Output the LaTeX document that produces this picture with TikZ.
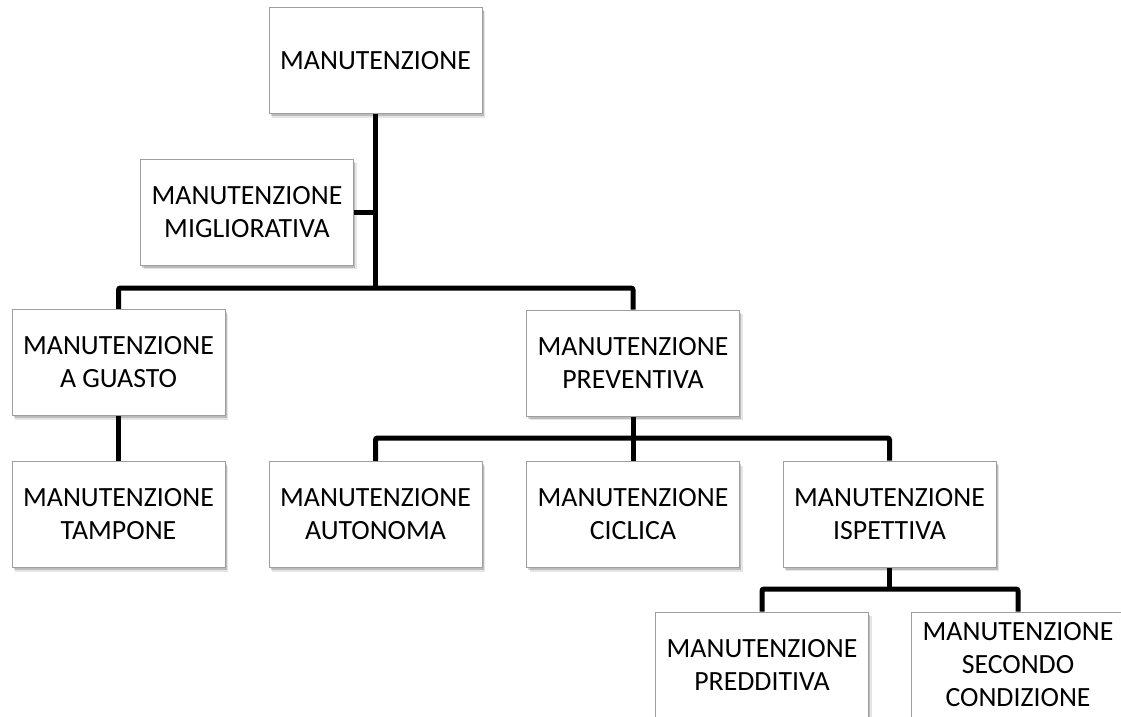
\documentclass[tikz,border=0pt]{standalone}
\usepackage{fontspec}
\setmainfont{Carlito}
\usetikzlibrary{shadows,backgrounds}

\tikzset{
  box/.style={draw=black!38, line width=1pt, fill=white,
    minimum width=213pt, minimum height=106pt, inner sep=0pt,
    align=center, text=black,
    font=\fontsize{27.8}{33}\selectfont,
    drop shadow={shadow xshift=3pt, shadow yshift=-4pt, fill=black, opacity=0.10},
    drop shadow={shadow xshift=1.5pt, shadow yshift=-2.5pt, fill=black, opacity=0.18}},
  conn/.style={draw=black, line width=5pt, rounded corners=2pt}
}

\begin{document}
\begin{tikzpicture}[x=1pt, y=-1pt]
  \clip (0,0) rectangle (1121,717);

  % boxes of the maintenance tree
  \node[box] (root)   at (375.5,60.5)  {MANUTENZIONE};
  \node[box] (mig)    at (247,212)     {MANUTENZIONE\\MIGLIORATIVA};
  \node[box] (guasto) at (118.5,362.5) {MANUTENZIONE\\A GUASTO};
  \node[box] (prev)   at (633,363)     {MANUTENZIONE\\PREVENTIVA};
  \node[box] (tamp)   at (118.5,514.5) {MANUTENZIONE\\TAMPONE};
  \node[box] (auto)   at (375.5,514.5) {MANUTENZIONE\\AUTONOMA};
  \node[box] (cicl)   at (633,514.5)   {MANUTENZIONE\\CICLICA};
  \node[box] (isp)    at (889.5,514)   {MANUTENZIONE\\ISPETTIVA};
  \node[box] (pred)   at (762,665)     {MANUTENZIONE\\PREDDITIVA};
  \node[box] (sec)    at (1018,665)    {MANUTENZIONE\\SECONDO\\CONDIZIONE};

  % junction points of the branch bars
  \coordinate (b1) at (375.5,288);
  \coordinate (b2) at (633,438);
  \coordinate (b3) at (889.5,589);

  \begin{scope}[on background layer]
    \fill[white] (0,0) rectangle (1121,717);
    \draw[conn] (root.south) -- (b1);
    \draw[conn] (mig.east) -- (mig.east -| root.south);
    \draw[conn] (guasto.north) |- (b1) -| (prev.north);
    \draw[conn] (guasto.south) -- (tamp.north);
    \draw[conn] (prev.south) -- (b2);
    \draw[conn] (auto.north) |- (b2) -| (isp.north);
    \draw[conn] (b2) -- (cicl.north);
    \draw[conn] (isp.south) -- (b3);
    \draw[conn] (pred.north) |- (b3) -| (sec.north);
  \end{scope}
\end{tikzpicture}
\end{document}
